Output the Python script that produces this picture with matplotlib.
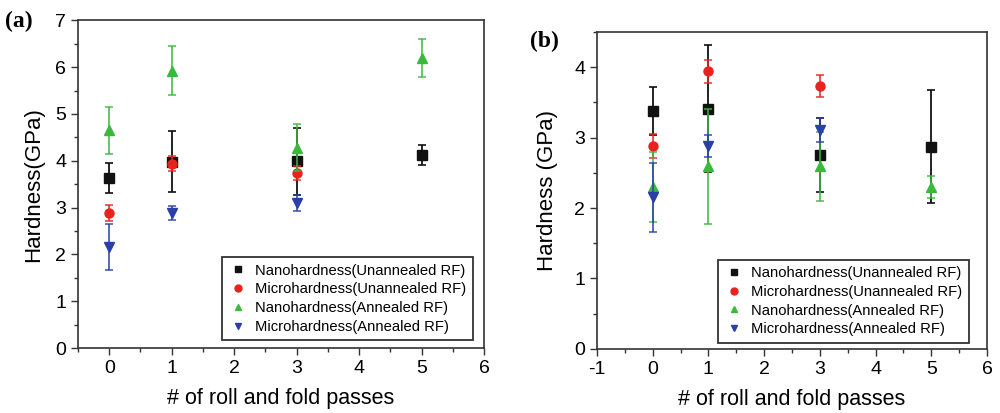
import matplotlib
matplotlib.use("Agg")
import matplotlib.pyplot as plt
from matplotlib.ticker import MultipleLocator

plt.rcParams['font.family'] = ['Liberation Sans', 'DejaVu Sans']
plt.rcParams['axes.unicode_minus'] = False

labels = ["Nanohardness(Unannealed RF)", "Microhardness(Unannealed RF)",
          "Nanohardness(Annealed RF)", "Microhardness(Annealed RF)"]
colors = ["#111111", "#e8231f", "#3cb83c", "#2a3fa8"]
markers = ["s", "o", "^", "v"]

# Panel (a)
a_nano_un_x = [0, 1, 3, 5]
a_nano_un_y = [3.63, 3.98, 3.99, 4.12]
a_nano_un_e = [0.32, 0.65, 0.71, 0.21]
a_micro_un_x = [0, 1, 3]
a_micro_un_y = [2.89, 3.94, 3.73]
a_micro_un_e = [0.17, 0.16, 0.15]
a_nano_an_x = [0, 1, 3, 5]
a_nano_an_y = [4.65, 5.92, 4.28, 6.20]
a_nano_an_e = [0.50, 0.52, 0.50, 0.41]
a_micro_an_x = [0, 1, 3]
a_micro_an_y = [2.16, 2.88, 3.10]
a_micro_an_e = [0.49, 0.15, 0.17]

# Panel (b)
b_nano_un_x = [0, 1, 3, 5]
b_nano_un_y = [3.38, 3.41, 2.75, 2.87]
b_nano_un_e = [0.34, 0.90, 0.52, 0.80]
b_micro_un_x = [0, 1, 3]
b_micro_un_y = [2.88, 3.94, 3.73]
b_micro_un_e = [0.17, 0.16, 0.16]
b_nano_an_x = [0, 1, 3, 5]
b_nano_an_y = [2.30, 2.59, 2.59, 2.30]
b_nano_an_e = [0.50, 0.81, 0.49, 0.16]
b_micro_an_x = [0, 1, 3]
b_micro_an_y = [2.15, 2.88, 3.10]
b_micro_an_e = [0.49, 0.15, 0.17]

fig = plt.figure(figsize=(10, 4.13), dpi=100)
axa = fig.add_axes([0.078, 0.157, 0.406, 0.794])
axb = fig.add_axes([0.597, 0.155, 0.390, 0.768])

def draw(ax, series, anchor):
    handles = []
    for (x, y, e), c, m, lab in zip(series, colors, markers, labels):
        ax.errorbar(x, y, yerr=e, fmt='none', ecolor=c, elinewidth=1.3,
                    capsize=3, capthick=1.2, alpha=0.85 if c != "#111111" else 1)
        ax.plot(x, y, linestyle='none', marker=m, color=c, markersize=6.5)
        h, = ax.plot([], [], linestyle='none', marker=m, color=c, markersize=5, label=lab)
        handles.append(h)
    leg = ax.legend(handles=handles, loc='lower right', fontsize=10.6, frameon=True,
                    fancybox=False, edgecolor='black', handletextpad=0.6,
                    labelspacing=0.32, borderpad=0.45, handlelength=1.2,
                    borderaxespad=0, bbox_to_anchor=anchor)
    leg.get_frame().set_linewidth(1.3)
    for s in ax.spines.values():
        s.set_linewidth(1.2)
        s.set_color('#333333')
    ax.tick_params(which='both', direction='out', top=False, right=False,
                   labelsize=14, color='#333333')
    ax.tick_params(which='major', length=5, width=1)
    ax.tick_params(which='minor', length=3, width=1)
    ax.xaxis.set_major_locator(MultipleLocator(1))
    ax.xaxis.set_minor_locator(MultipleLocator(0.5))
    ax.yaxis.set_major_locator(MultipleLocator(1))
    ax.yaxis.set_minor_locator(MultipleLocator(0.5))
    ax.set_xlabel("# of roll and fold passes", fontsize=15.5, labelpad=8)

draw(axa, [(a_nano_un_x, a_nano_un_y, a_nano_un_e),
           (a_micro_un_x, a_micro_un_y, a_micro_un_e),
           (a_nano_an_x, a_nano_an_y, a_nano_an_e),
           (a_micro_an_x, a_micro_an_y, a_micro_an_e)], (0.973, 0.024))
axa.set_xlim(-0.5, 6)
axa.set_ylim(0, 7)
axa.set_ylabel("Hardness(GPa)", fontsize=16, labelpad=8)

draw(axb, [(b_nano_un_x, b_nano_un_y, b_nano_un_e),
           (b_micro_un_x, b_micro_un_y, b_micro_un_e),
           (b_nano_an_x, b_nano_an_y, b_nano_an_e),
           (b_micro_an_x, b_micro_an_y, b_micro_an_e)], (0.954, 0.019))
axb.set_xlim(-1, 6)
axb.set_ylim(0, 4.5)
axb.set_ylabel("Hardness (GPa)", fontsize=16, labelpad=12)

fig.text(0.005, 0.935, "(a)", fontsize=17, fontweight='bold', family='Liberation Serif')
fig.text(0.530, 0.885, "(b)", fontsize=17, fontweight='bold', family='Liberation Serif')

fig.savefig("out.png", dpi=100)
